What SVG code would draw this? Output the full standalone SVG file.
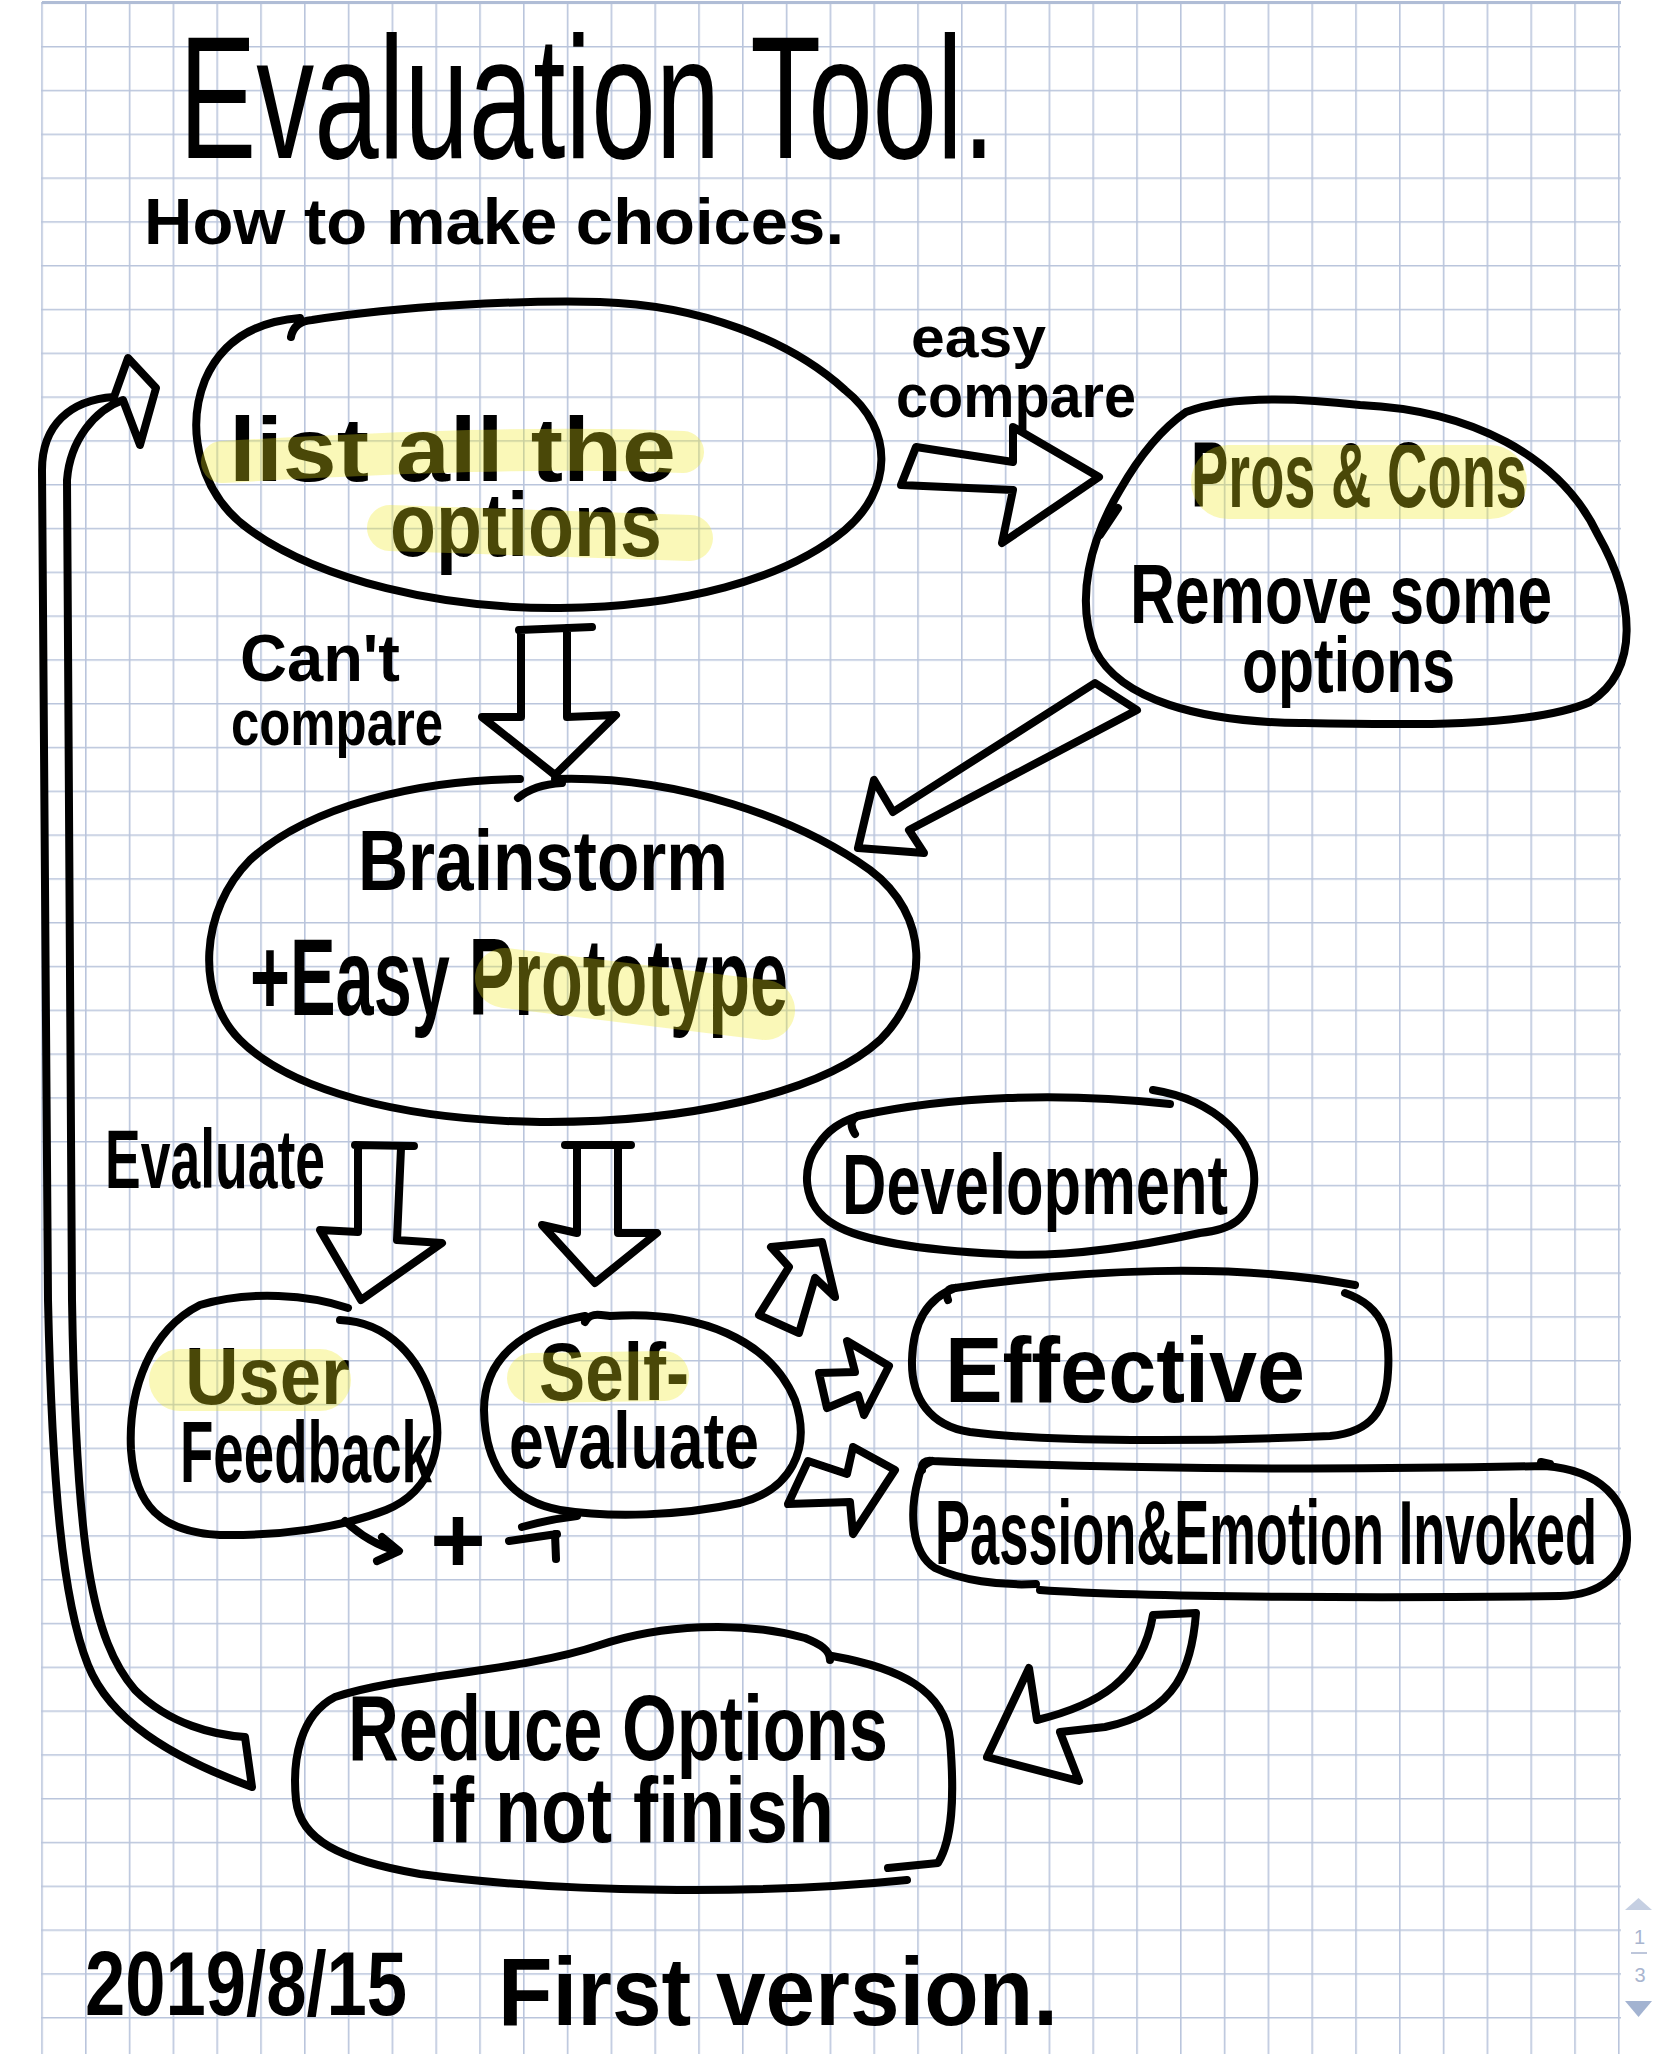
<svg xmlns="http://www.w3.org/2000/svg" width="1658" height="2054" viewBox="0 0 1658 2054">
<defs>
<style>
.ink{fill:none;stroke:#000;stroke-width:8;stroke-linecap:round;stroke-linejoin:round}
.t{font-family:"Liberation Sans",Arial,sans-serif;font-weight:700;fill:#000}
.tn{font-family:"Liberation Sans",Arial,sans-serif;font-weight:400;fill:#000}
.hl{fill:none;stroke:#efe81a;stroke-opacity:.31;stroke-linecap:round}
.ui{font-family:"Liberation Sans",Arial,sans-serif;fill:#a9b5cf;font-size:20px}
</style>
<pattern id="grid" x="41.2" y="2.2" width="43.8" height="43.8" patternUnits="userSpaceOnUse">
<path d="M0,0.8 H43.8 M0.8,0 V43.8" stroke="#bac5dc" stroke-width="1.6" fill="none"/>
</pattern>
</defs>
<rect width="1658" height="2054" fill="#fff"/>
<g id="paper">
<rect x="41" y="2" width="1580" height="2052" fill="url(#grid)"/>
<line x1="42" y1="2.5" x2="1621" y2="2.5" stroke="#b0bdd6" stroke-width="3"/>
</g>

<g id="heading">
<text class="tn" x="179" y="158" font-size="175" textLength="816" lengthAdjust="spacingAndGlyphs">Evaluation Tool.</text>
<text class="t" x="144" y="244" font-size="64" textLength="700" lengthAdjust="spacingAndGlyphs">How to make choices.</text>
</g>

<g id="connectors">
<path id="c-easy" class="ink" d="M916,447 L1013,462 L1013,427 L1099,477 L1002,543 L1013,490 L901,485 Z"/>
<path id="c-cant" class="ink" d="M519,630 L592,627 M521,630 L521,717 L482,717 L555,775 L616,715 L567,717 L567,628"/>
<path id="c-pros" class="ink" d="M1095,683 L893,812 L874,780 L858,848 L924,853 L909,830 L1137,710 Z"/>
<path id="c-eval1" class="ink" d="M355,1145 L414,1146 M358,1146 L358,1232 L320,1230 L361,1300 L442,1243 L397,1240 L401,1148"/>
<path id="c-eval2" class="ink" d="M565,1145 L631,1145 M577,1145 L577,1233 L542,1225 L595,1283 L657,1233 L618,1233 L618,1147"/>
<path id="c-dev" class="ink" d="M789,1267 L771,1247 L822,1242 L835,1297 L815,1278 L799,1333 L759,1315 Z"/>
<path id="c-eff" class="ink" d="M819,1373 L855,1372 L847,1341 L889,1366 L864,1415 L858,1395 L827,1408 Z"/>
<path id="c-pass" class="ink" d="M808,1461 L847,1474 L853,1447 L895,1470 L853,1534 L850,1502 L788,1504 Z"/>
<path id="c-reduce" class="ink" d="M1153,1615 L1196,1613 C1192,1665 1178,1712 1105,1727 L1060,1732 L1079,1781 L987,1757 L1029,1668 L1037,1720 C1098,1705 1142,1680 1153,1615 Z"/>
<path id="c-loop" class="ink" d="M252,1787 C170,1757 110,1720 88,1665 C62,1600 52,1480 48,1300 L42,470 C42,425 70,400 114,397 L128,358 L156,388 L140,445 L123,400 C95,410 70,440 67,480 L72,1300 C76,1550 92,1640 135,1690 C170,1725 215,1735 245,1737 Z"/>
<path id="c-user" class="ink" d="M345,1521 C360,1535 378,1546 397,1551 M382,1537 L399,1551 L377,1561"/>
<path id="c-self" class="ink" d="M509,1541 L557,1534 M522,1527 C540,1522 560,1518 577,1516 M555,1534 L556,1559"/>
<text class="t" x="240" y="681" font-size="66" textLength="160" lengthAdjust="spacingAndGlyphs">Can't</text>
<text class="t" x="231" y="745" font-size="64" textLength="212" lengthAdjust="spacingAndGlyphs">compare</text>
<text class="t" x="911" y="357" font-size="58" textLength="135" lengthAdjust="spacingAndGlyphs">easy</text>
<text class="t" x="896" y="417" font-size="62" textLength="240" lengthAdjust="spacingAndGlyphs">compare</text>
<text class="t" x="105" y="1188" font-size="84" textLength="220" lengthAdjust="spacingAndGlyphs">Evaluate</text>
<text class="t" x="458" y="1572" font-size="95" text-anchor="middle">+</text>
</g>

<g id="n-list">
<path class="ink" d="M291,337 C293,326 300,321 312,320 C400,306 520,300 600,302 C700,305 790,340 845,390 C895,430 892,490 845,530 C785,580 680,607 560,608 C440,609 320,580 250,530 C200,495 185,430 205,380 C220,345 250,322 300,318"/>
<text class="t" x="229" y="481" font-size="90" textLength="447" lengthAdjust="spacingAndGlyphs">list all the</text>
<text class="t" x="390" y="556" font-size="90" textLength="272" lengthAdjust="spacingAndGlyphs">options</text>
<path class="hl" stroke-width="42" d="M222,462 C400,452 550,446 683,452"/>
<path class="hl" stroke-width="46" d="M390,528 L690,538"/>
</g>

<g id="n-proscons">
<path class="ink" d="M1186,412 C1230,395 1300,398 1360,405 C1470,410 1560,455 1598,535 C1635,600 1640,670 1590,702 C1530,728 1400,725 1300,723 C1200,722 1120,700 1095,650 C1075,600 1090,540 1120,490 C1140,455 1160,430 1186,412 Z"/>
<path class="ink" d="M1118,508 L1100,535"/>
<text class="t" x="1191" y="507" font-size="92" textLength="336" lengthAdjust="spacingAndGlyphs">Pros &amp; Cons</text>
<text class="t" x="1130" y="623" font-size="84" textLength="422" lengthAdjust="spacingAndGlyphs">Remove some</text>
<text class="t" x="1242" y="692" font-size="78" textLength="213" lengthAdjust="spacingAndGlyphs">options</text>
<path class="hl" stroke-width="74" d="M1228,482 L1490,482"/>
</g>

<g id="n-brainstorm">
<path class="ink" d="M518,798 C530,788 545,784 562,783"/>
<path class="ink" d="M555,779 C680,775 800,820 870,870 C930,915 930,990 880,1040 C820,1095 680,1123 540,1122 C400,1120 290,1090 240,1040 C195,995 200,910 250,860 C310,805 420,780 520,779"/>
<text class="t" x="358" y="890" font-size="86" textLength="370" lengthAdjust="spacingAndGlyphs">Brainstorm</text>
<text class="t" x="250" y="1015" font-size="110" textLength="538" lengthAdjust="spacingAndGlyphs">+Easy Prototype</text>
<path class="hl" stroke-width="60" d="M505,978 L765,1010"/>
</g>

<g id="n-user">
<path class="ink" d="M340,1320 C390,1322 420,1360 432,1400 C445,1440 435,1490 386,1510 C340,1528 280,1536 220,1535 C160,1532 135,1505 131,1450 C128,1390 150,1330 200,1305 C250,1290 310,1295 348,1308"/>
<text class="t" x="185" y="1404" font-size="82" textLength="165" lengthAdjust="spacingAndGlyphs">User</text>
<text class="t" x="180" y="1482" font-size="88" textLength="252" lengthAdjust="spacingAndGlyphs">Feedback</text>
<path class="hl" stroke-width="62" d="M180,1380 L320,1380"/>
</g>

<g id="n-self">
<path class="ink" d="M585,1322 C590,1312 600,1315 610,1316 C700,1310 770,1340 795,1400 C812,1450 790,1490 740,1503 C680,1516 610,1518 560,1510 C505,1500 485,1460 484,1410 C484,1360 520,1328 585,1316"/>
<text class="t" x="539" y="1400" font-size="82" textLength="150" lengthAdjust="spacingAndGlyphs">Self-</text>
<text class="t" x="509" y="1468" font-size="80" textLength="250" lengthAdjust="spacingAndGlyphs">evaluate</text>
<path class="hl" stroke-width="50" d="M532,1378 L664,1376"/>
</g>

<g id="n-development">
<path class="ink" d="M855,1134 C850,1126 850,1120 858,1116 C950,1096 1060,1092 1170,1104"/>
<path class="ink" d="M1153,1090 C1215,1100 1258,1140 1254,1185 C1250,1220 1230,1230 1200,1233 C1130,1248 1060,1258 1000,1254 C920,1250 860,1240 835,1225 C800,1205 802,1165 818,1145 C828,1130 840,1122 858,1116"/>
<text class="t" x="842" y="1214" font-size="86" textLength="386" lengthAdjust="spacingAndGlyphs">Development</text>
</g>

<g id="n-effective">
<path class="ink" d="M948,1300 C945,1292 948,1288 955,1288 C1080,1270 1230,1262 1355,1285"/>
<path class="ink" d="M1345,1293 C1388,1308 1390,1340 1388,1372 C1386,1410 1372,1432 1330,1436 C1200,1442 1050,1442 970,1432 C930,1426 911,1398 912,1360 C913,1322 928,1298 955,1288"/>
<text class="t" x="945" y="1402" font-size="92" textLength="360" lengthAdjust="spacingAndGlyphs">Effective</text>
</g>

<g id="n-passion">
<path class="ink" d="M922,1470 C921,1463 925,1460 932,1461 C1100,1468 1300,1471 1545,1466 C1600,1470 1628,1500 1627,1540 C1626,1575 1600,1595 1560,1596 C1400,1598 1150,1598 1040,1590"/>
<path class="ink" d="M1036,1584 C1000,1586 960,1580 935,1568 C910,1552 910,1510 918,1480 C920,1470 922,1465 932,1461"/>
<path class="ink" d="M1541,1462 L1550,1464"/>
<text class="t" x="935" y="1564" font-size="90" textLength="662" lengthAdjust="spacingAndGlyphs">Passion&amp;Emotion Invoked</text>
</g>

<g id="n-reduce">
<path class="ink" d="M830,1660 C830,1650 820,1644 805,1638 C740,1620 660,1625 600,1645 C520,1672 400,1675 335,1697 C300,1715 292,1760 296,1800 C300,1840 340,1860 420,1874 C560,1893 760,1895 907,1880"/>
<path class="ink" d="M832,1656 C900,1668 945,1690 950,1740 C955,1800 952,1840 938,1863 L888,1868"/>
<text class="t" x="348" y="1760" font-size="92" textLength="540" lengthAdjust="spacingAndGlyphs">Reduce Options</text>
<text class="t" x="428" y="1842" font-size="92" textLength="406" lengthAdjust="spacingAndGlyphs">if not finish</text>
</g>

<g id="footer">
<text class="t" x="85" y="2015" font-size="90" textLength="322" lengthAdjust="spacingAndGlyphs">2019/8/15</text>
<text class="t" x="498" y="2025" font-size="96" textLength="560" lengthAdjust="spacingAndGlyphs">First version.</text>
</g>

<g id="pager">
<polygon points="1625,1910 1652,1910 1638.5,1898" fill="#c5cfe2"/>
<text class="ui" x="1639.5" y="1944" text-anchor="middle">1</text>
<line x1="1631" y1="1953" x2="1647" y2="1953" stroke="#a9b5cf" stroke-width="1.5"/>
<text class="ui" x="1640" y="1982" text-anchor="middle">3</text>
<polygon points="1625,2001 1652,2001 1638.5,2017" fill="#a3b3d1"/>
</g>
</svg>
